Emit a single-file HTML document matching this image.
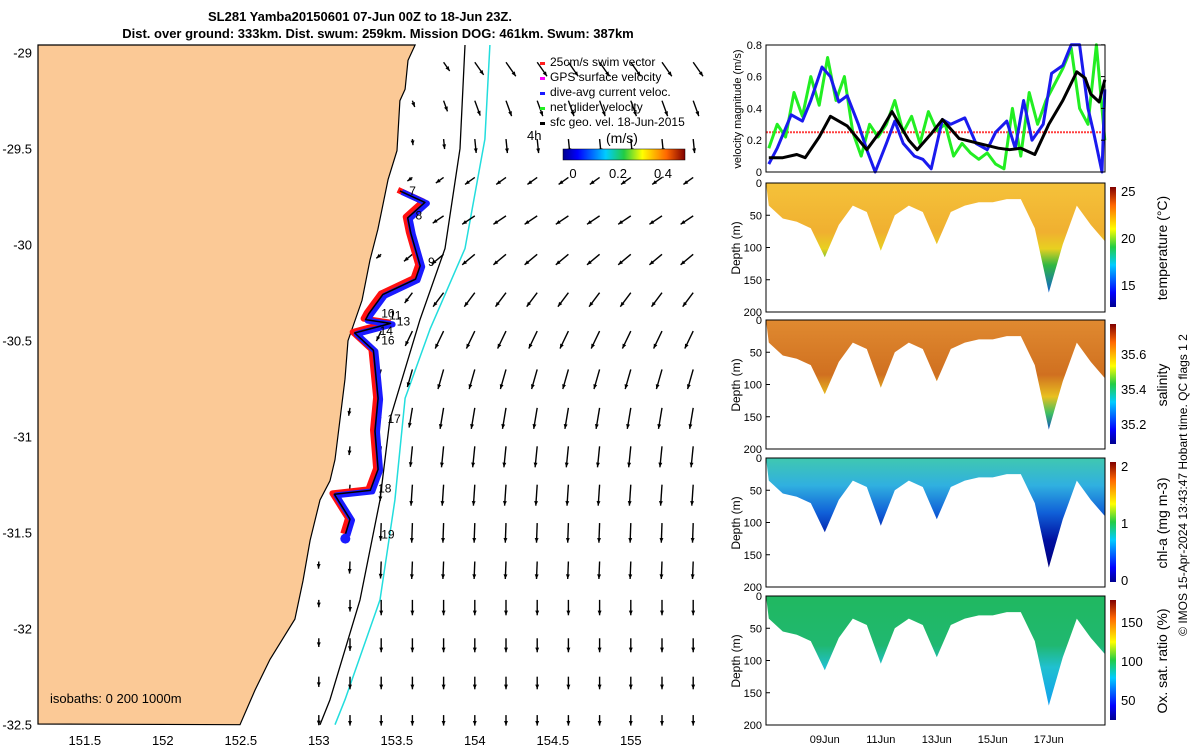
<!DOCTYPE html>
<html><head><meta charset="utf-8"><style>
body{margin:0;background:#fff;}
svg{display:block;font-family:"Liberation Sans","DejaVu Sans",sans-serif;}
</style></head><body>
<svg id="fig" width="1200" height="750" viewBox="0 0 1200 750">
<defs>
<linearGradient id="jet" x1="0" x2="1" y1="0" y2="0">
<stop offset="0" stop-color="#00008f"/><stop offset="0.12" stop-color="#0000ff"/><stop offset="0.35" stop-color="#00ccff"/><stop offset="0.5" stop-color="#22cc44"/><stop offset="0.65" stop-color="#ffff00"/><stop offset="0.85" stop-color="#ff6600"/><stop offset="1" stop-color="#800000"/></linearGradient>
<linearGradient id="jetv" x1="0" x2="0" y1="1" y2="0">
<stop offset="0" stop-color="#00008f"/><stop offset="0.12" stop-color="#0000ff"/><stop offset="0.35" stop-color="#00ccff"/><stop offset="0.5" stop-color="#22cc44"/><stop offset="0.65" stop-color="#ffff00"/><stop offset="0.85" stop-color="#ff6600"/><stop offset="1" stop-color="#800000"/></linearGradient>
<linearGradient id="gTemp" x1="0" x2="0" y1="0" y2="1"><stop offset="0" stop-color="#f5c23a"/><stop offset="0.45" stop-color="#f0b030"/><stop offset="0.6" stop-color="#e8d020"/><stop offset="0.75" stop-color="#30b840"/><stop offset="1" stop-color="#1060d0"/></linearGradient>
<linearGradient id="gSal" x1="0" x2="0" y1="0" y2="1"><stop offset="0" stop-color="#e08a30"/><stop offset="0.5" stop-color="#d07020"/><stop offset="0.7" stop-color="#e8c020"/><stop offset="0.85" stop-color="#40c060"/><stop offset="1" stop-color="#1050c0"/></linearGradient>
<linearGradient id="gChl" x1="0" x2="0" y1="0" y2="1"><stop offset="0" stop-color="#40c8b0"/><stop offset="0.25" stop-color="#30b0e0"/><stop offset="0.5" stop-color="#1060d8"/><stop offset="0.75" stop-color="#0010a0"/><stop offset="1" stop-color="#000080"/></linearGradient>
<linearGradient id="gOx" x1="0" x2="0" y1="0" y2="1"><stop offset="0" stop-color="#20b860"/><stop offset="0.45" stop-color="#20b870"/><stop offset="0.65" stop-color="#20c0d0"/><stop offset="1" stop-color="#10a0f0"/></linearGradient>
</defs>
<g id="map"></g>
<g id="right"></g>
</svg>
<script>
// ---------- DATA ----------
const coastLon=[153.617,153.572,153.553,153.52,153.501,153.444,153.379,153.328,153.277,153.187,153.168,153.136,153.104,153.072,153.008,152.944,152.899,152.847,152.687,152.591,152.495];
const coastLat=[-28.96,-29.04,-29.19,-29.25,-29.51,-29.66,-29.92,-30.08,-30.29,-30.50,-30.70,-30.91,-31.12,-31.23,-31.33,-31.54,-31.75,-31.95,-32.16,-32.32,-32.50];
const iso200Lon=[153.937,153.905,153.809,153.649,153.456,153.392,153.264,153.072,153.008];
const iso200Lat=[-28.96,-29.50,-30.02,-30.39,-30.91,-31.33,-31.85,-32.37,-32.50];
const iso1000Lon=[154.097,154.065,153.937,153.713,153.553,153.488,153.392,153.168,153.104];
const iso1000Lat=[-28.96,-29.45,-30.02,-30.44,-30.80,-31.33,-31.85,-32.37,-32.50];
const trackLon=[153.52,153.68,153.57,153.59,153.65,153.62,153.41,153.32,153.30,153.46,153.23,153.35,153.38,153.36,153.38,153.33,153.10,153.20,153.17];
const trackLat=[-29.72,-29.78,-29.86,-29.94,-30.11,-30.18,-30.26,-30.36,-30.39,-30.41,-30.46,-30.55,-30.80,-30.97,-31.17,-31.28,-31.30,-31.43,-31.51];
const dayLabels=["7","8","9","10","11","13","14","16","17","18","19"];
const dayLon=[153.58,153.62,153.70,153.40,153.45,153.50,153.39,153.40,153.44,153.38,153.40];
const dayLat=[-29.74,-29.87,-30.11,-30.38,-30.39,-30.42,-30.47,-30.52,-30.93,-31.29,-31.53];
const arrowRowLat=[-29.05,-29.25,-29.45,-29.65,-29.85,-30.05,-30.25,-30.45,-30.65,-30.85,-31.05,-31.25,-31.45,-31.65,-31.85,-32.05,-32.25,-32.45];
const arrowU=[0.14,0.08,0.02,-0.14,-0.18,-0.18,-0.15,-0.12,-0.08,-0.05,-0.03,-0.02,-0.01,-0.01,0.0,0.0,0.0,0.0];
const arrowV=[-0.2,-0.22,-0.2,-0.1,-0.12,-0.15,-0.2,-0.25,-0.28,-0.3,-0.3,-0.3,-0.28,-0.25,-0.22,-0.2,-0.18,-0.15];
const arrowColLon=[153.0,153.2,153.4,153.6,153.8,154.0,154.2,154.4,154.6,154.8,155.0,155.2,155.4];
const lonTicks=[151.5,152,152.5,153,153.5,154,154.5,155];
const latTicks=[-29,-29.5,-30,-30.5,-31,-31.5,-32,-32.5];
const blackT=[0,0.5,1,1.3,1.8,2.2,2.8,3.5,4.0,4.4,5.0,5.3,5.8,6.2,6.8,7.5,8.2,8.6,9.0,9.5,10.0,10.5,11.0,11.3,11.5,11.8,12.0];
const blackV=[0.09,0.09,0.11,0.09,0.22,0.35,0.29,0.14,0.26,0.38,0.2,0.14,0.24,0.33,0.21,0.18,0.15,0.14,0.15,0.11,0.3,0.45,0.63,0.59,0.49,0.44,0.58];
const blueT=[0,0.3,0.8,1.2,1.5,1.9,2.2,2.5,2.8,3.2,3.5,3.8,4.2,4.5,4.8,5.2,5.5,5.8,6.2,6.5,7.0,7.4,7.8,8.1,8.5,8.8,9.1,9.4,9.8,10.1,10.5,10.8,11.1,11.4,11.6,11.9,12.0];
const blueV=[0.05,0.15,0.36,0.32,0.45,0.66,0.6,0.44,0.48,0.3,0.14,0.0,0.18,0.32,0.18,0.1,0.08,0.02,0.33,0.3,0.34,0.18,0.14,0.25,0.32,0.15,0.45,0.2,0.3,0.62,0.67,0.8,0.8,0.4,0.25,0.0,0.52];
const greenT=[0,0.3,0.6,0.9,1.2,1.5,1.8,2.1,2.4,2.7,3.0,3.3,3.6,3.9,4.2,4.5,4.8,5.1,5.4,5.7,6.0,6.3,6.6,6.9,7.2,7.5,7.8,8.1,8.4,8.7,9.0,9.3,9.6,9.9,10.2,10.5,10.8,11.1,11.4,11.7,12.0];
const greenV=[0.15,0.3,0.22,0.5,0.35,0.6,0.42,0.72,0.45,0.6,0.25,0.1,0.3,0.22,0.3,0.45,0.25,0.35,0.18,0.38,0.26,0.3,0.1,0.18,0.12,0.08,0.12,0.05,0.02,0.4,0.1,0.5,0.3,0.45,0.55,0.65,0.78,0.4,0.3,0.8,0.2];
const swimV=0.25;
const velTicks=[0,0.2,0.4,0.6,0.8];
const secT=[0,0.5,1,1.5,2,2.5,3,3.5,4,4.5,5,5.5,6,6.5,7,7.5,8,8.5,9,9.5,10,10.5,11,11.5,12];
const secDepth=[35,55,60,70,115,65,35,45,105,50,35,45,95,45,35,30,30,25,25,70,170,95,35,65,90];
const dateTicks=[2,4,6,8,10];
const dateLabels=["09Jun","11Jun","13Jun","15Jun","17Jun"];
const depthTicks=[0,50,100,150,200];

// ---------- HELPERS ----------
const NS="http://www.w3.org/2000/svg";
function mk(tag,attrs,parent,text){const e=document.createElementNS(NS,tag);for(const k in attrs)e.setAttribute(k,attrs[k]);if(text!==undefined)e.textContent=text;parent.appendChild(e);return e;}
const lonX=lon=>38+(lon-151.2)*156;
const latY=lat=>45+(-28.96-lat)*192;
function coastAt(lat){for(let i=0;i<coastLat.length-1;i++){if(lat<=coastLat[i]&&lat>=coastLat[i+1]){const f=(lat-coastLat[i])/(coastLat[i+1]-coastLat[i]);return coastLon[i]+f*(coastLon[i+1]-coastLon[i]);}}return 153;}

// ---------- MAP ----------
const map=document.getElementById('map');
let landPts="38,45 ";
for(let i=0;i<coastLon.length;i++)landPts+=lonX(coastLon[i]).toFixed(1)+","+latY(coastLat[i]).toFixed(1)+" ";
landPts+="38,724";
let land=mk('polygon',{points:landPts,fill:'#fbc996',stroke:'#000','stroke-width':1.2},map);


function line(lons,lats,col,w,name){let p=lons.map((l,i)=>lonX(l).toFixed(1)+","+latY(lats[i]).toFixed(1)).join(" ");let e=mk('polyline',{points:p,fill:'none',stroke:col,'stroke-width':w,'stroke-linejoin':'round'},map);return e;}
line(iso200Lon,iso200Lat,'#000',1.3,'isobath-200m');
line(iso1000Lon,iso1000Lat,'#22dddd',1.5,'isobath-1000m');
const ag=mk('g',{},map);


for(let r=0;r<arrowRowLat.length;r++){
 const lat=arrowRowLat[r];const cl=coastAt(lat);
 for(let c=0;c<arrowColLon.length;c++){
  const lon=arrowColLon[c];if(lon<cl+0.04)continue;
  const near=Math.min(1,(lon-cl)/0.5);
  const sc=70*(0.3+0.7*near);
  const x0=lonX(lon),y0=latY(lat);
  const x1=x0+arrowU[r]*sc,y1=y0-arrowV[r]*sc;
  const a=mk('line',{x1:x0,y1:y0,x2:x1,y2:y1,stroke:'#000','stroke-width':1.4},ag);
  
  const ang=Math.atan2(y1-y0,x1-x0);
  const h=mk('polygon',{points:`${x1},${y1} ${x1-5*Math.cos(ang-0.4)},${y1-5*Math.sin(ang-0.4)} ${x1-5*Math.cos(ang+0.4)},${y1-5*Math.sin(ang+0.4)}`,fill:'#000'},ag);
  
 }
}
line(trackLon,trackLat,'#ff1010',6,'swim-vector-track').setAttribute('transform','translate(-2,-1)');
line(trackLon,trackLat,'#1a1aff',6,'current-vector-track').setAttribute('transform','translate(2,1)');
line(trackLon,trackLat,'#000',1.5,'glider-track');
const st=mk('circle',{cx:lonX(trackLon[trackLon.length-1]),cy:latY(trackLat[trackLat.length-1])+4,r:5,fill:'#1a1aff'},map);

for(let i=0;i<dayLabels.length;i++){const t=mk('text',{x:lonX(dayLon[i]),y:latY(dayLat[i]),'font-size':12},map,dayLabels[i]);}
lonTicks.forEach(v=>{const t=mk('text',{x:lonX(v),y:745,'font-size':13,'text-anchor':'middle'},map,String(v));});
latTicks.forEach(v=>{const t=mk('text',{x:32,y:latY(v)+5,'font-size':13,'text-anchor':'end'},map,String(v));});
let t1=mk('text',{x:360,y:21,'font-size':13,'font-weight':'bold','text-anchor':'middle'},map,"SL281 Yamba20150601 07-Jun 00Z to 18-Jun 23Z.");

let t2=mk('text',{x:378,y:38,'font-size':13,'font-weight':'bold','text-anchor':'middle'},map,"Dist. over ground: 333km. Dist. swum: 259km. Mission DOG: 461km. Swum: 387km");

const lg=mk('g',{},map);


const legT=["25cm/s swim vector","GPS surface velocity","dive-avg current veloc.","net glider velocity","sfc geo. vel. 18-Jun-2015"];
const legC=["#ff2020","#ff00ff","#1a1aff","#22ee22","#000"];
legT.forEach((s,i)=>{const y=65+i*15;mk('rect',{x:540,y:y-3,width:5,height:3,fill:legC[i]},lg);const t=mk('text',{x:550,y:y+1,'font-size':12},lg,s);});
mk('text',{x:527,y:140,'font-size':13},lg,"4h");
mk('text',{x:606,y:143,'font-size':14},lg,"(m/s)");
mk('rect',{x:563,y:149,width:122,height:11,fill:'url(#jet)',stroke:'#000','stroke-width':0.5},lg);
[["0",573],["0.2",618],["0.4",663]].forEach(a=>mk('text',{x:a[1],y:178,'font-size':13,'text-anchor':'middle'},lg,a[0]));
let iso=mk('text',{x:50,y:703,'font-size':13},map,"isobaths: 0   200  1000m");


// ---------- RIGHT PANELS ----------
const R=document.getElementById('right');
const tX=t=>768.8+t*28;
const vY=v=>172-v*159;
let vp=mk('g',{},R);
mk('line',{x1:tX(-0.1),x2:1105,y1:vY(swimV),y2:vY(swimV),stroke:'#ff4040','stroke-width':2,'stroke-dasharray':'2 1'},vp);
function series(T,V,col,w,name){const p=T.map((t,i)=>tX(t).toFixed(1)+","+vY(Math.min(0.8,V[i])).toFixed(1)).join(" ");const e=mk('polyline',{points:p,fill:'none',stroke:col,'stroke-width':w,'stroke-linejoin':'round'},vp);}
series(greenT,greenV,'#22ee22',3,'net-glider-velocity-series');
series(blueT,blueV,'#1a1aee',3,'dive-avg-current-series');
series(blackT,blackV,'#000',3,'surface-geo-velocity-series');
mk('rect',{x:766,y:45,width:339,height:127,fill:'none',stroke:'#000'},vp);
velTicks.forEach(v=>{mk('text',{x:762,y:vY(v)+4,'font-size':11,'text-anchor':'end'},vp,String(v));mk('line',{x1:1101,x2:1105,y1:vY(v),y2:vY(v),stroke:'#000'},vp);});
mk('text',{transform:'translate(741,109) rotate(-90)','font-size':11,'text-anchor':'middle'},vp,"velocity magnitude (m/s)");

const panels=[
 {y:183,fill:'url(#gTemp)',name:'temperature-panel',label:'temperature (°C)',ticks:[["25",191],["20",238],["15",285]]},
 {y:320,fill:'url(#gSal)',name:'salinity-panel',label:'salinity',ticks:[["35.6",354],["35.4",389],["35.2",424]]},
 {y:458,fill:'url(#gChl)',name:'chlorophyll-panel',label:'chl-a (mg m-3)',ticks:[["2",466],["1",523],["0",580]]},
 {y:596,fill:'url(#gOx)',name:'oxygen-panel',label:'Ox. sat. ratio (%)',ticks:[["150",622],["100",661],["50",700]]}
];
panels.forEach((P,pi)=>{
 const g=mk('g',{},R);
 
 
 const dY=d=>P.y+d*0.645;
 let pts=tX(-0.1)+","+P.y+" ";
 secT.forEach((t,i)=>pts+=tX(t).toFixed(1)+","+dY(secDepth[i]).toFixed(1)+" ");
 pts+="1105,"+dY(secDepth[secDepth.length-1])+" 1105,"+P.y;
 const poly=mk('polygon',{points:pts,fill:P.fill},g);
 
 mk('rect',{x:766,y:P.y,width:339,height:129,fill:'none',stroke:'#000'},g);
 depthTicks.forEach(d=>{mk('text',{x:762,y:dY(d)+4,'font-size':11,'text-anchor':'end'},g,String(d));mk('line',{x1:766,x2:770,y1:dY(d),y2:dY(d),stroke:'#000'},g);});
 mk('text',{transform:`translate(740,${P.y+65}) rotate(-90)`,'font-size':12,'text-anchor':'middle'},g,"Depth (m)");
 const cb=mk('rect',{x:1110,y:P.y+4,width:6,height:120,fill:'url(#jetv)'},g);
 
 P.ticks.forEach(a=>mk('text',{x:1121,y:a[1]+5,'font-size':13},g,a[0]));
 mk('text',{transform:`translate(1167,${P.y+65}) rotate(-90)`,'font-size':14,'text-anchor':'middle'},g,P.label);
 if(pi===3){dateTicks.forEach((t,i)=>{mk('text',{x:tX(t),y:743,'font-size':11,'text-anchor':'middle'},g,dateLabels[i]);});}
});
let cp=mk('text',{transform:'translate(1187,485) rotate(-90)','font-size':12,'text-anchor':'middle'},R,"© IMOS 15-Apr-2024 13:43:47 Hobart time. QC flags 1  2");

</script>
</body></html>
